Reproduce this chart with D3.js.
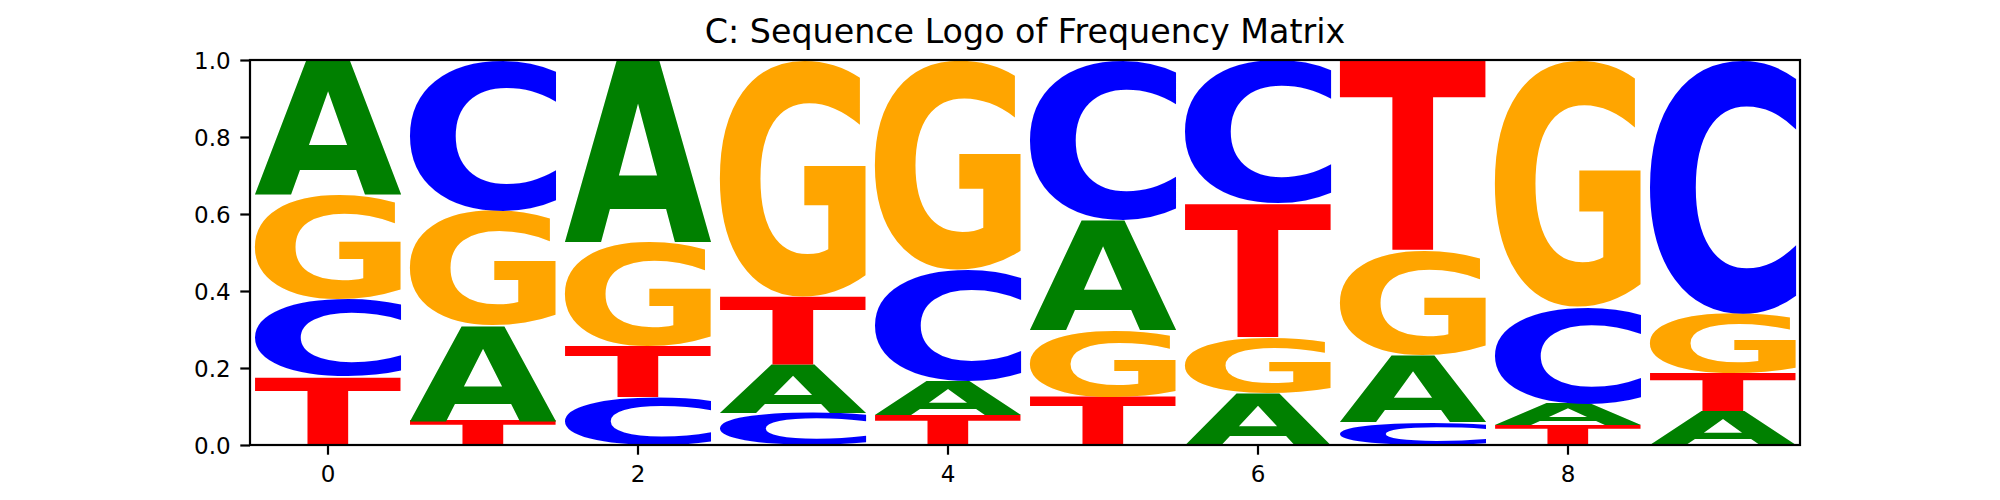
<!DOCTYPE html>
<html><head><meta charset="utf-8">
<script src="https://cdn.jsdelivr.net/npm/d3@7/dist/d3.min.js"></script>
<style>body{margin:0;background:#fff}</style>
</head><body>
<svg id="chart" width="2000" height="500"></svg>
<script>
// ---- data ----
const positions = [0, 1, 2, 3, 4, 5, 6, 7, 8, 9];
const letters = ["A", "C", "G", "T"];
const freqA = [0.351, 0.247, 0.472, 0.124, 0.086, 0.285, 0.134, 0.173, 0.056, 0.087];
const freqC = [0.201, 0.391, 0.124, 0.084, 0.290, 0.416, 0.372, 0.061, 0.251, 0.660];
const freqG = [0.271, 0.299, 0.270, 0.615, 0.545, 0.174, 0.145, 0.270, 0.641, 0.154];
const freqT = [0.177, 0.063, 0.134, 0.177, 0.079, 0.125, 0.349, 0.496, 0.052, 0.099];
const yTicks = [0.0, 0.2, 0.4, 0.6, 0.8, 1.0];
const xTicks = [0, 2, 4, 6, 8];
const colors = {A: "#008000", C: "#0000ff", G: "#ffa500", T: "#ff0000"};
const title = "C: Sequence Logo of Frequency Matrix";

const freqs = {A: freqA, C: freqC, G: freqG, T: freqT};

const svg = d3.select("#chart");
const L = 250, R = 1800, T = 60, B = 445;
const x = d3.scaleLinear().domain([-0.5, 9.5]).range([L, R]);
const y = d3.scaleLinear().domain([0, 1]).range([B, T]);
const glyphWidth = 0.95;

// measure ink bounds of each glyph
const ctx = document.createElement("canvas").getContext("2d");
const FS = 200;
const FONT = "'DejaVu Sans', 'Liberation Sans', sans-serif";
ctx.font = `bold ${FS}px ${FONT}`;
const ink = {};
letters.forEach(l => {
  const mt = ctx.measureText(l);
  ink[l] = {l: mt.actualBoundingBoxLeft, r: mt.actualBoundingBoxRight,
            a: mt.actualBoundingBoxAscent, d: mt.actualBoundingBoxDescent};
});

// stacks: smallest at bottom
const glyphs = [];
positions.forEach((p, i) => {
  const vals = letters.map(l => ({letter: l, v: freqs[l][i]})).sort((a, b) => a.v - b.v);
  let acc = 0;
  vals.forEach(d => { glyphs.push({pos: p, letter: d.letter, y0: acc, y1: acc + d.v}); acc += d.v; });
});

svg.append("defs").append("clipPath").attr("id", "clip")
  .append("rect").attr("x", L).attr("y", T).attr("width", R - L).attr("height", B - T);

const g = svg.append("g").attr("clip-path", "url(#clip)");
g.selectAll("text.glyph").data(glyphs).join("text")
  .attr("class", "glyph")
  .attr("x", 0).attr("y", 0)
  .attr("font-family", FONT).attr("font-weight", "bold").attr("font-size", FS)
  .attr("fill", d => colors[d.letter])
  .attr("transform", d => {
    const b = ink[d.letter];
    const x0 = x(d.pos - glyphWidth / 2), x1 = x(d.pos + glyphWidth / 2);
    const yt = y(d.y1), yb = y(d.y0);
    const sx = (x1 - x0) / (b.l + b.r), sy = (yb - yt) / (b.a + b.d);
    return `translate(${x0},${yt}) scale(${sx},${sy}) translate(${b.l},${b.a})`;
  })
  .text(d => d.letter);

// axes
const tickLen = 9.7, tickW = 2.2, lblFS = 23;
const ya = svg.append("g").attr("transform", `translate(${L},0)`)
  .call(d3.axisLeft(y).tickValues(yTicks).tickFormat(d3.format(".1f")).tickSize(tickLen).tickSizeOuter(0).tickPadding(9.7));
ya.select(".domain").remove();
ya.selectAll(".tick line").attr("stroke", "#000").attr("stroke-width", tickW);
ya.selectAll(".tick text").attr("font-family", "'DejaVu Sans'").attr("font-size", lblFS).attr("fill", "#000")
  .attr("dy", null).attr("y", 8.3);

const xa = svg.append("g").attr("transform", `translate(0,${B})`)
  .call(d3.axisBottom(x).tickValues(xTicks).tickFormat(d3.format("d")).tickSize(tickLen).tickSizeOuter(0).tickPadding(9.7));
xa.select(".domain").remove();
xa.selectAll(".tick line").attr("stroke", "#000").attr("stroke-width", tickW);
xa.selectAll(".tick text").attr("font-family", "'DejaVu Sans'").attr("font-size", lblFS).attr("fill", "#000")
  .attr("dy", null).attr("y", 37);

// frame
svg.append("rect").attr("x", L).attr("y", T).attr("width", R - L).attr("height", B - T)
  .attr("fill", "none").attr("stroke", "#000").attr("stroke-width", tickW);

// title
svg.append("text").attr("x", (L + R) / 2).attr("y", 43.3).attr("text-anchor", "middle")
  .attr("font-family", "'DejaVu Sans'").attr("font-size", 33.3).attr("fill", "#000").text(title);
</script>
</body></html>
